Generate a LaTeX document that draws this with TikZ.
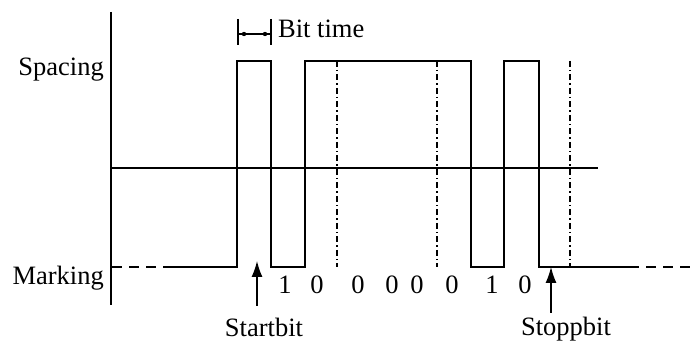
\documentclass[tikz,border=0pt]{standalone}
\usepackage{fontspec}
\setmainfont{Liberation Serif}
\usetikzlibrary{arrows.meta}

\tikzset{
	wave/.style={line width=1.3pt, line join=miter},
	idle/.style={line width=1.3pt, dash pattern=on 10pt off 7pt},
	slot/.style={line width=1.3pt, dash pattern=on 6pt off 3pt on 1.5pt off 3pt},
	bitlbl/.style={anchor=base, inner sep=0pt},
	pointer/.style={line width=1.3pt, -{Latex[length=16pt, width=11pt]}}
}

\begin{document}
\begin{tikzpicture}[x=1pt, y=-1pt, every node/.style={font=\fontsize{26.5}{31}\selectfont}]
			%%%%% START %%%%%
			\useasboundingbox (0, 0) rectangle (696, 344);

			% axes
			\draw[line width=1.3pt] (111, 12) -- (111, 305);
			\draw[line width=1.3pt] (111, 168) -- (598, 168);

			\node[anchor=base east, inner sep=0pt] (spc) at (104, 76) {Spacing};
			\node[anchor=base east, inner sep=0pt] (mrk) at (104, 285) {Marking};

			% bit time marker
			\draw[line width=1.3pt] (238, 19) -- (238, 45);
			\draw[line width=1.3pt] (271, 19) -- (271, 45);
			\coordinate (bta) at (238, 34);
			\coordinate (btb) at (271, 34);
			\draw[line width=1.2pt] (bta) -- (btb);
			\fill (244, 34) circle (2.2);
			\fill (265, 34) circle (2.2);
			\node[anchor=base west, inner sep=0pt] (btime) at (278, 38) {Bit time};

			% bit slot boundaries
			\draw[slot] (337, 61) -- (337, 267);
			\draw[slot] (437, 61) -- (437, 267);
			\draw[slot] (570, 61) -- (570, 267);

			% the character on the line
			\draw[idle] (112, 267) -- (170, 267);
			\draw[wave] (170, 267) -- (237, 267) -- (237, 61) -- (271, 61) -- (271, 267)
				-- (305, 267) -- (305, 61) -- (471, 61) -- (471, 267) -- (504, 267)
				-- (504, 61) -- (539, 61) -- (539, 267) -- (639, 267);
			\draw[idle] (646, 267) -- (696, 267);

			% data bits
			\node[bitlbl] (b0) at (285, 294) {1};
			\node[bitlbl] (b1) at (317, 294) {0};
			\node[bitlbl] (b2) at (358, 294) {0};
			\node[bitlbl] (b3) at (392, 294) {0};
			\node[bitlbl] (b4) at (417, 294) {0};
			\node[bitlbl] (b5) at (452, 294) {0};
			\node[bitlbl] (b6) at (492, 294) {1};
			\node[bitlbl] (b7) at (525, 294) {0};

			% start and stop bits
			\coordinate (sttip) at (257, 261);
			\coordinate (sttail) at (257, 306);
			\draw[pointer] (sttail) -- (sttip);
			\node[anchor=base, inner sep=0pt] (stlbl) at (264, 337) {Startbit};

			\coordinate (sptip) at (551, 267);
			\coordinate (sptail) at (551, 313);
			\draw[pointer] (sptail) -- (sptip);
			\node[anchor=base, inner sep=0pt] (splbl) at (566, 336) {Stoppbit};
			%%%%% END %%%%%
		\end{tikzpicture}
\end{document}
